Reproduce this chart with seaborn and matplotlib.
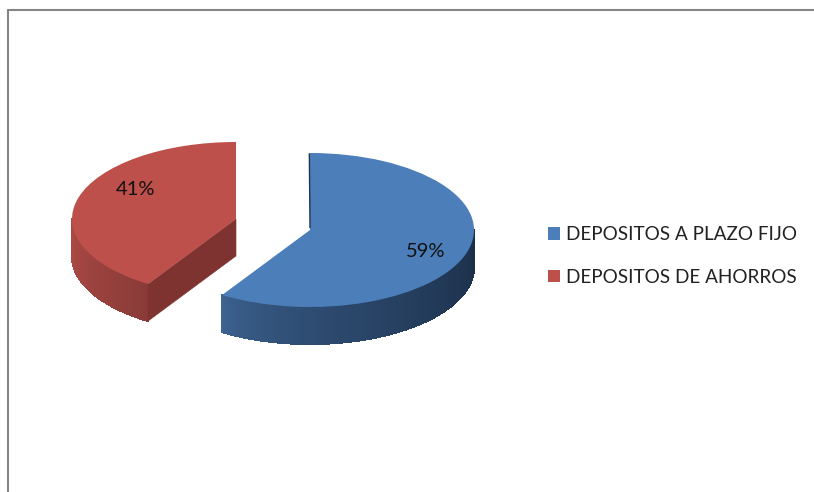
import numpy as np
import matplotlib
matplotlib.use("Agg")
import matplotlib.pyplot as plt
from matplotlib.colors import to_rgb
from matplotlib.lines import Line2D
from matplotlib.patches import Polygon
import seaborn as sns

categories = ["DEPOSITOS A PLAZO FIJO", "DEPOSITOS DE AHORROS"]
shares = [59, 41]

top_colors = ["#4C7EBA", "#BE504C"]
wall_left = ["#3E6594", "#B04B46"]
wall_right = ["#1B2F49", "#8A3B38"]
inner_wall = "#7E3331"
frame_color = "#858585"

W, H = 814, 492
RX, RY = 164, 77          # pie radii in pixels
CX, CY = 310, 230         # pixel position of the pie centre
DEPTH = 37 / RY           # wall height in data units
RED_SHIFT = (-74 / RX, 11 / RY)

sns.set_theme(style="white")
plt.rcParams["font.family"] = ["Lato", "DejaVu Sans"]

fig = plt.figure(figsize=(W / 100, H / 100), dpi=100, facecolor="white")
ax = fig.add_axes([0, 0, 1, 1])
wedges, _ = ax.pie(shares, colors=top_colors, startangle=90, counterclock=False,
                   wedgeprops={"linewidth": 0, "zorder": 5})
ax.set_aspect("auto")
ax.set_xlim(-CX / RX, (W - CX) / RX)
ax.set_ylim(-(H - CY) / RY, CY / RY)
ax.axis("off")
wedges[1].set_center(RED_SHIFT)


def draw_wall(wedge, left, right, lo, hi, power):
    """Shade the visible outer rim of a wedge as narrow vertical strips."""
    cx, cy = wedge.center
    angles = np.linspace(lo, hi, 160)
    c0, c1 = np.array(to_rgb(left)), np.array(to_rgb(right))
    for i, (a0, a1) in enumerate(zip(angles[:-1], angles[1:])):
        t = (i / (len(angles) - 2)) ** power
        colour = c0 + (c1 - c0) * t
        x0, y0 = cx + np.cos(np.radians(a0)), cy + np.sin(np.radians(a0))
        x1, y1 = cx + np.cos(np.radians(a1)), cy + np.sin(np.radians(a1))
        ax.add_patch(Polygon([(x0, y0), (x1, y1), (x1, y1 - DEPTH), (x0, y0 - DEPTH)],
                             closed=True, facecolor=colour, edgecolor=colour,
                             linewidth=0.8, antialiased=False, zorder=3))


# The seam between the slices lies where the first wedge ends.
seam = wedges[0].theta1 % 360
draw_wall(wedges[0], wall_left[0], wall_right[0], seam, 360, 0.6)
draw_wall(wedges[1], wall_left[1], wall_right[1], 180, seam, 1.0)

# Cut face of the detached slice, running from its centre to the front rim.
rx0, ry0 = wedges[1].center
ex, ey = rx0 + np.cos(np.radians(seam)), ry0 + np.sin(np.radians(seam))
ax.add_patch(Polygon([(rx0, ry0), (ex, ey), (ex, ey - DEPTH), (rx0, ry0 - DEPTH)],
                     closed=True, facecolor=inner_wall, edgecolor=inner_wall,
                     linewidth=0.4, zorder=4))

# Sliver of the back cut face on the larger slice.
ax.plot([-0.004, 0.0], [0.99, 0.03], color="#1F3550", lw=1.0, zorder=6)

label_pos = [(116 / RX, -21.5 / RY), (-174 / RX, 40.5 / RY)]
for value, (lx, ly) in zip(shares, label_pos):
    ax.text(lx, ly, f"{value}%", ha="center", va="center",
            fontsize=14.5, color="#111111", zorder=7)

ax.legend(wedges, categories, loc="center left",
          bbox_to_anchor=(548 / W, 1 - 256 / H), frameon=False,
          fontsize=13.6, labelcolor="#222222", handlelength=0.62, handleheight=0.62,
          handletextpad=0.35, labelspacing=1.36, borderpad=0, borderaxespad=0)

# Outer chart frame, open at the right and bottom edges.
fig.add_artist(Line2D([8 / W, 8 / W], [0, 1 - 10 / H], color=frame_color, lw=1.5))
fig.add_artist(Line2D([7.5 / W, 1], [1 - 10 / H, 1 - 10 / H], color=frame_color, lw=1.5))

fig.savefig("out.png", dpi=100, facecolor="white")
